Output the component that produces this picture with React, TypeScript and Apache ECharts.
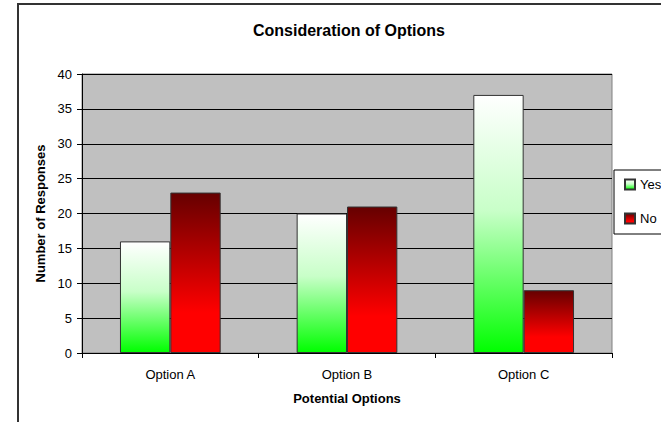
import React, { useEffect, useRef } from "react";
import * as echarts from "echarts";

const categories = ["Option A", "Option B", "Option C"];
const yesValues = [16, 20, 37];
const noValues = [23, 21, 9];
const seriesNames = ["Yes", "No"];

const FONT = "'Liberation Sans', Arial, sans-serif";

export default function App() {
  const ref = useRef<HTMLDivElement>(null);
  useEffect(() => {
    if (!ref.current) return;
    const chart = echarts.init(ref.current, undefined, { renderer: "svg" });
    const greenGrad = new echarts.graphic.LinearGradient(0, 0, 0, 1, [
      { offset: 0, color: "#ffffff" },
      { offset: 0.45, color: "#c8ffc8" },
      { offset: 1, color: "#00ff00" },
    ]);
    const redGrad = new echarts.graphic.LinearGradient(0, 0, 0, 1, [
      { offset: 0, color: "#660000" },
      { offset: 0.75, color: "#ff0000" },
      { offset: 1, color: "#ff0000" },
    ]);
    chart.setOption({
      animation: false,
      backgroundColor: "#ffffff",
      textStyle: { fontFamily: FONT },
      graphic: [
        {
          type: "rect",
          shape: { x: 18, y: 4, width: 800, height: 600 },
          style: { fill: "none", stroke: "#333333", lineWidth: 2 },
          z: 100,
        },
        {
          type: "text",
          x: 349,
          y: 30,
          style: {
            text: "Consideration of Options",
            font: "bold 16px 'Liberation Sans', Arial, sans-serif",
            fill: "#000000",
            textAlign: "center",
            textVerticalAlign: "middle",
          },
        },
      ],
      legend: {
        data: seriesNames,
        orient: "vertical",
        left: 614,
        top: 170,
        itemWidth: 10,
        itemHeight: 10,
        itemGap: 21,
        padding: [8, 30, 9, 10],
        borderColor: "#000000",
        borderWidth: 1,
        backgroundColor: "#ffffff",
        icon: "rect",
        textStyle: { fontSize: 13, color: "#000000", fontFamily: FONT },
      },
      grid: {
        left: 82,
        right: 49,
        top: 74,
        bottom: 69,
        show: true,
        backgroundColor: "#c0c0c0",
        borderColor: "#808080",
        borderWidth: 1,
      },
      xAxis: {
        type: "category",
        data: categories,
        name: "Potential Options",
        nameLocation: "middle",
        nameGap: 39,
        nameTextStyle: { fontWeight: "bold", fontSize: 13, color: "#000000", fontFamily: FONT },
        axisLine: { lineStyle: { color: "#000000", width: 1 } },
        axisTick: { show: true, length: 5, alignWithLabel: false, lineStyle: { color: "#000000" } },
        axisLabel: { fontSize: 13, color: "#000000", margin: 15, fontFamily: FONT },
      },
      yAxis: {
        type: "value",
        min: 0,
        max: 40,
        interval: 5,
        name: "Number of Responses",
        nameLocation: "middle",
        nameGap: 34,
        nameTextStyle: { fontWeight: "bold", fontSize: 13, color: "#000000", fontFamily: FONT },
        axisLine: { show: true, lineStyle: { color: "#000000", width: 1 } },
        axisTick: { show: true, length: 5, lineStyle: { color: "#000000" } },
        axisLabel: { fontSize: 13, color: "#000000", margin: 10, fontFamily: FONT },
        splitLine: { show: true, lineStyle: { color: "#000000", width: 1 } },
      },
      series: [
        {
          name: seriesNames[0],
          type: "bar",
          data: yesValues,
          barGap: "0%",
          barCategoryGap: "43%",
          itemStyle: { color: greenGrad, borderColor: "#333333", borderWidth: 1 },
        },
        {
          name: seriesNames[1],
          type: "bar",
          data: noValues,
          barGap: "0%",
          barCategoryGap: "43%",
          itemStyle: { color: redGrad, borderColor: "#333333", borderWidth: 1 },
        },
      ],
    });
    return () => chart.dispose();
  }, []);
  return (
    <div
      ref={ref}
      style={{ position: "fixed", left: 0, top: 0, width: 661, height: 422 }}
    />
  );
}
